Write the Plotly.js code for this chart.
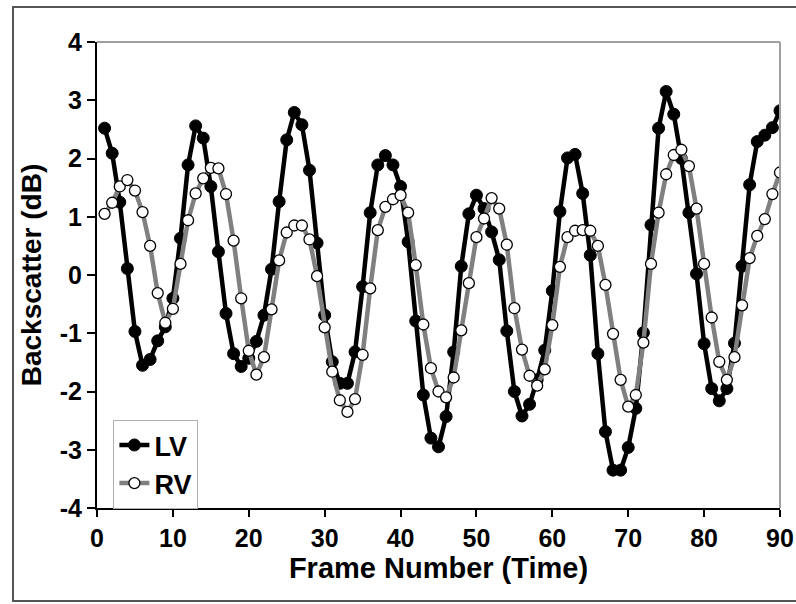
<!DOCTYPE html>
<html>
<head>
<meta charset="utf-8">
<script src="https://cdn.plot.ly/plotly-3.0.1.min.js"></script>
<style>
html,body{margin:0;padding:0;background:#fff;}
#chart{width:796px;height:604px;}
</style>
</head>
<body>
<div id="chart"></div>
<script>
const frames = Array.from({length: 90}, (_, i) => i + 1);

const lvValues = [
  2.52, 2.09, 1.25, 0.11, -0.97, -1.55, -1.45, -1.13, -0.89, -0.40,
  0.63, 1.89, 2.56, 2.35, 1.52, 0.40, -0.66, -1.35, -1.57, -1.43,
  -1.14, -0.69, 0.10, 1.26, 2.32, 2.79, 2.58, 1.80, 0.55, -0.69,
  -1.49, -1.86, -1.86, -1.32, -0.20, 1.07, 1.89, 2.05, 1.89, 1.52,
  0.57, -0.79, -2.06, -2.80, -2.95, -2.43, -1.32, 0.15, 1.05, 1.37,
  1.14, 0.74, 0.26, -0.96, -2.00, -2.42, -2.22, -1.80, -1.29, -0.27,
  1.09, 2.01, 2.07, 1.40, 0.34, -1.35, -2.69, -3.35, -3.35, -2.96,
  -2.29, -0.99, 0.86, 2.52, 3.15, 2.76, 2.00, 1.07, 0.02, -1.18,
  -1.95, -2.16, -1.95, -1.17, 0.15, 1.55, 2.29, 2.40, 2.53, 2.82
];

const rvValues = [
  1.05, 1.24, 1.52, 1.63, 1.45, 1.08, 0.50, -0.31, -0.82, -0.58,
  0.19, 0.94, 1.40, 1.66, 1.84, 1.83, 1.39, 0.59, -0.40, -1.30,
  -1.71, -1.41, -0.59, 0.25, 0.73, 0.85, 0.85, 0.61, -0.02, -0.90,
  -1.66, -2.15, -2.35, -2.13, -1.37, -0.23, 0.77, 1.17, 1.30, 1.37,
  1.07, 0.17, -0.85, -1.60, -2.00, -2.10, -1.76, -0.95, -0.14, 0.65,
  0.97, 1.32, 1.14, 0.52, -0.57, -1.28, -1.73, -1.90, -1.62, -0.86,
  0.14, 0.65, 0.76, 0.77, 0.76, 0.50, -0.17, -1.01, -1.80, -2.26,
  -2.06, -1.16, 0.19, 1.07, 1.73, 2.06, 2.15, 1.87, 1.14, 0.19,
  -0.73, -1.49, -1.80, -1.41, -0.52, 0.29, 0.67, 0.96, 1.39, 1.76
];

const xTicks = [0, 10, 20, 30, 40, 50, 60, 70, 80, 90];
const yTicks = [-4, -3, -2, -1, 0, 1, 2, 3, 4];

const FONT = 'Arial, "Liberation Sans", sans-serif';

const traces = [
  {
    x: frames, y: lvValues, name: 'LV', type: 'scatter', mode: 'lines+markers',
    line: {color: '#000000', width: 4.5},
    marker: {symbol: 'circle', size: 12, color: '#000000', line: {color: '#000000', width: 1}}
  },
  {
    x: frames, y: rvValues, name: 'RV', type: 'scatter', mode: 'lines+markers',
    line: {color: '#808080', width: 4.5},
    marker: {symbol: 'circle', size: 11, color: '#ffffff', line: {color: '#000000', width: 1.3}}
  }
];

const layout = {
  width: 796, height: 604,
  margin: {l: 97, r: 16, t: 42, b: 96},
  paper_bgcolor: '#ffffff', plot_bgcolor: '#ffffff',
  font: {family: FONT, color: '#000000'},
  showlegend: true,
  legend: {
    x: 0.024, y: 0.189, xanchor: 'left', yanchor: 'top',
    bgcolor: '#ffffff', bordercolor: '#b0b0b0', borderwidth: 1,
    font: {family: FONT, size: 27, weight: 'bold', color: '#000'},
    itemwidth: 30, tracegroupgap: 0
  },
  xaxis: {
    range: [0, 90], tickvals: xTicks, ticktext: xTicks.map(String),
    showgrid: false, zeroline: false,
    showline: true, linecolor: '#000', linewidth: 2,
    ticks: 'outside', ticklen: 7, tickwidth: 2, tickcolor: '#000',
    tickfont: {family: FONT, size: 25, weight: 'bold', color: '#000'},
    title: {text: 'Frame Number (Time)', font: {family: FONT, size: 29, weight: 'bold', color: '#000'}, standoff: 6}
  },
  yaxis: {
    range: [-4, 4], tickvals: yTicks, ticktext: yTicks.map(String),
    showgrid: false, zeroline: false,
    showline: true, linecolor: '#000', linewidth: 2,
    ticks: 'outside', ticklen: 8, tickwidth: 2, tickcolor: '#000',
    tickfont: {family: FONT, size: 25, weight: 'bold', color: '#000'},
    title: {text: 'Backscatter (dB)', font: {family: FONT, size: 28, weight: 'bold', color: '#000'}, standoff: 10}
  },
  shapes: [
    {type: 'line', xref: 'paper', yref: 'paper', x0: 0, x1: 1, y0: 1, y1: 1, line: {color: '#a0a0a0', width: 2}},
    {type: 'line', xref: 'paper', yref: 'paper', x0: 1, x1: 1, y0: 0, y1: 1, line: {color: '#a0a0a0', width: 2}},
    {type: 'rect', xref: 'paper', yref: 'paper', x0: -0.123, x1: 1.03, y0: -0.1996, y1: 1.075, line: {color: '#555555', width: 2}, fillcolor: 'rgba(0,0,0,0)'}
  ]
};

Plotly.newPlot('chart', traces, layout, {displayModeBar: false, staticPlot: true});
</script>
</body>
</html>
